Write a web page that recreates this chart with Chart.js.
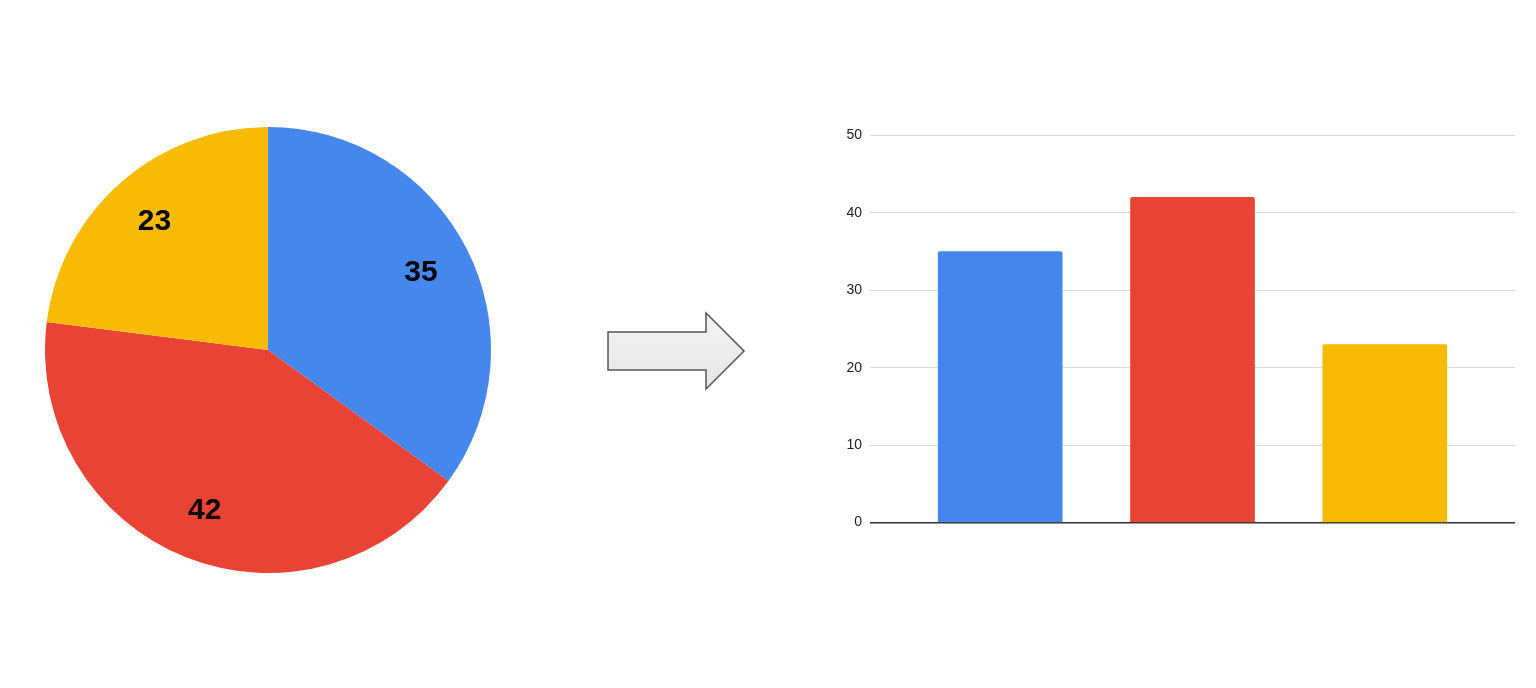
<!DOCTYPE html>
<html>
<head>
<meta charset="utf-8">
<script src="https://cdn.jsdelivr.net/npm/chart.js@4"></script>
<style>
  html, body { margin: 0; padding: 0; background: #fff; }
  body { width: 1536px; height: 688px; position: relative; overflow: hidden; }
  .box { position: absolute; }
</style>
</head>
<body>
<div class="box" style="left:43px; top:125px; width:450px; height:450px;">
  <canvas id="pieChart"></canvas>
</div>

<svg class="box" style="left:0; top:0;" width="1536" height="688">
  <defs>
    <linearGradient id="arrowFill" x1="0" y1="0" x2="0" y2="1">
      <stop offset="0" stop-color="#f4f4f4"/>
      <stop offset="1" stop-color="#e6e6e6"/>
    </linearGradient>
  </defs>
  <polygon points="608,332 706,332 706,313 744,351 706,389 706,370 608,370"
           fill="url(#arrowFill)" stroke="#555" stroke-width="1.5"/>
</svg>

<div class="box" style="left:800px; top:119px; width:715px; height:420px;">
  <canvas id="barChart"></canvas>
</div>

<script>
const categories = ["Blue", "Red", "Yellow"];
const values = [35, 42, 23];
const yTicks = [0, 10, 20, 30, 40, 50];

const colors = ["#4687ee", "#e94335", "#f7bb05"];

// numbers written inside each slice
const sliceLabels = {
  id: "sliceLabels",
  afterDatasetsDraw(chart) {
    const ctx = chart.ctx;
    const meta = chart.getDatasetMeta(0);
    ctx.save();
    ctx.font = "bold 30px 'Liberation Sans', Arial, sans-serif";
    ctx.fillStyle = "#000";
    ctx.textAlign = "center";
    ctx.textBaseline = "middle";
    meta.data.forEach((arc, i) => {
      const p = arc.getProps(["x", "y", "startAngle", "endAngle", "outerRadius"], true);
      const mid = (p.startAngle + p.endAngle) / 2;
      const r = p.outerRadius * 0.77;
      ctx.fillText(String(values[i]), p.x + Math.cos(mid) * r, p.y + Math.sin(mid) * r + 1);
    });
    ctx.restore();
  }
};

new Chart(document.getElementById("pieChart"), {
  type: "pie",
  data: {
    labels: categories,
    datasets: [{
      data: values,
      backgroundColor: colors,
      borderWidth: 0
    }]
  },
  options: {
    responsive: true,
    maintainAspectRatio: false,
    animation: false,
    layout: { padding: 2 },
    plugins: { legend: { display: false }, tooltip: { enabled: false } }
  },
  plugins: [sliceLabels]
});

new Chart(document.getElementById("barChart"), {
  type: "bar",
  data: {
    datasets: [{
      data: values.map((v, i) => ({ x: i, y: v })),
      backgroundColor: colors,
      borderWidth: 0,
      borderRadius: { topLeft: 2, topRight: 2 },
      borderSkipped: "bottom",
      barThickness: 124
    }]
  },
  options: {
    responsive: true,
    maintainAspectRatio: false,
    animation: false,
    layout: { padding: { top: 10, bottom: 10, left: 0, right: 0 } },
    plugins: { legend: { display: false }, tooltip: { enabled: false } },
    scales: {
      x: {
        type: "linear",
        offset: false,
        min: -0.677,
        max: 2.677,
        display: false
      },
      y: {
        min: yTicks[0],
        max: yTicks[yTicks.length - 1],
        afterBuildTicks: s => { s.ticks = yTicks.map(v => ({ value: v })); },
        afterFit: s => { s.width = 70; },
        border: { display: false },
        grid: {
          drawTicks: false,
          color: c => c.tick.value === 0 ? "#333" : "#d9d9d9",
          lineWidth: c => c.tick.value === 0 ? 1.5 : 1
        },
        ticks: {
          padding: 8,
          color: "#222",
          font: { family: "'Liberation Sans', Arial, sans-serif", size: 14 }
        }
      }
    }
  }
});
</script>
</body>
</html>
